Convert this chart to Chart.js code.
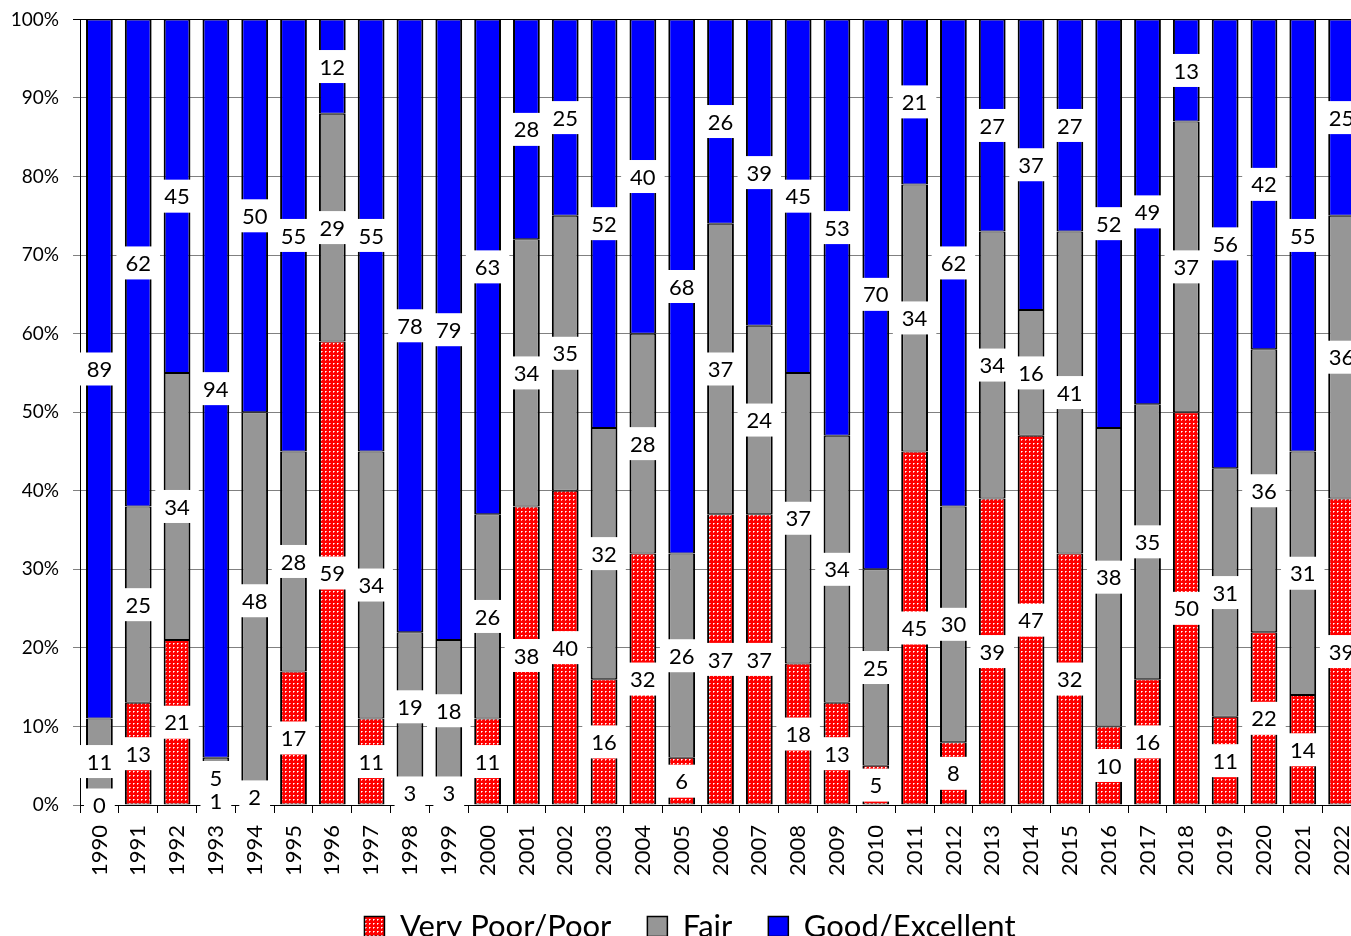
<!DOCTYPE html>
<html>
<head>
<meta charset="utf-8">
<script src="https://cdn.jsdelivr.net/npm/chart.js@4"></script>
<style>
  html, body { margin: 0; padding: 0; background: #fff; overflow: hidden; }
  #wrap { width: 1380px; height: 958px; margin-top: -6px; }
</style>
</head>
<body>
<div id="wrap"><canvas id="chart" width="1380" height="958"></canvas></div>
<script>
const years = ["1990", "1991", "1992", "1993", "1994", "1995", "1996", "1997", "1998", "1999",
    "2000", "2001", "2002", "2003", "2004", "2005", "2006", "2007", "2008", "2009",
    "2010", "2011", "2012", "2013", "2014", "2015", "2016", "2017", "2018", "2019",
    "2020", "2021", "2022"];
const veryPoorPoor = [0, 13, 21, 1, 2, 17, 59, 11, 3, 3, 11, 38, 40, 16, 32, 6, 37, 37, 18, 13,
    5, 45, 8, 39, 47, 32, 10, 16, 50, 11, 22, 14, 39];
const fair = [11, 25, 34, 5, 48, 28, 29, 34, 19, 18, 26, 34, 35, 32, 28, 26, 37, 24, 37, 34,
    25, 34, 30, 34, 16, 41, 38, 35, 37, 31, 36, 31, 36];
const goodExcellent = [89, 62, 45, 94, 50, 55, 12, 55, 78, 79, 63, 28, 25, 52, 40, 68, 26, 39, 45, 53,
    70, 21, 62, 27, 37, 27, 52, 49, 13, 56, 42, 55, 25];

const FONT = "Lato, 'Open Sans', sans-serif";

// 100% stacked: share of each year's total
function toShare(values) {
    return values.map((v, i) => v / (veryPoorPoor[i] + fair[i] + goodExcellent[i]) * 100);
}

// red fill with small white dots
function dotPattern() {
    const c = document.createElement("canvas");
    c.width = 4;
    c.height = 4;
    const g = c.getContext("2d");
    g.fillStyle = "#ff0000";
    g.fillRect(0, 0, 4, 4);
    g.fillStyle = "#ffffff";
    g.fillRect(1, 1, 1, 1);
    g.fillStyle = "#ff9a9a";
    g.fillRect(2, 1, 1, 1);
    g.fillRect(1, 2, 1, 1);
    return g.createPattern(c, "repeat");
}

// white boxed value labels at the middle of every segment
const valueLabels = {
    id: "valueLabels",
    afterDatasetsDraw(chart) {
        const ctx = chart.ctx;
        ctx.save();
        ctx.font = "22px " + FONT;
        ctx.textAlign = "center";
        ctx.textBaseline = "middle";
        chart.data.datasets.forEach((ds, i) => {
            const meta = chart.getDatasetMeta(i);
            meta.data.forEach((bar, j) => {
                const p = bar.getProps(["x", "y", "base"], true);
                const cy = (p.y + p.base) / 2;
                const text = String(ds.raw[j]);
                const w = ctx.measureText(text).width + 18;
                const h = 33;
                ctx.fillStyle = "#ffffff";
                ctx.fillRect(p.x - w / 2, cy - h / 2, w, h);
                ctx.fillStyle = "#000000";
                ctx.fillText(text, p.x, cy + 1);
            });
        });
        ctx.restore();
    }
};

const border = { top: 1, bottom: 1, left: 2, right: 2 };

new Chart(document.getElementById("chart").getContext("2d"), {
    type: "bar",
    data: {
        labels: years,
        datasets: [
            {
                label: "Very Poor/Poor",
                raw: veryPoorPoor,
                data: toShare(veryPoorPoor),
                backgroundColor: dotPattern(),
                borderColor: "#000000",
                borderWidth: border,
                borderSkipped: false,
            },
            {
                label: "Fair",
                raw: fair,
                data: toShare(fair),
                backgroundColor: "#969696",
                borderColor: "#000000",
                borderWidth: border,
                borderSkipped: false,
            },
            {
                label: "Good/Excellent",
                raw: goodExcellent,
                data: toShare(goodExcellent),
                backgroundColor: "#0000ff",
                borderColor: "#000000",
                borderWidth: border,
                borderSkipped: false,
            },
        ],
    },
    options: {
        responsive: false,
        animation: false,
        devicePixelRatio: 1,
        categoryPercentage: 1,
        barPercentage: 0.69,
        layout: { padding: { top: 14, right: 0, left: 0, bottom: 0 } },
        plugins: {
            tooltip: { enabled: false },
            legend: {
                position: "bottom",
                labels: {
                    color: "#000000",
                    font: { family: FONT, size: 31 },
                    boxWidth: 20,
                    boxHeight: 20,
                    padding: 36,
                },
            },
        },
        scales: {
            x: {
                stacked: true,
                afterFit: (scale) => { scale.height = 70; },
                border: { color: "#000000", width: 1 },
                grid: { drawOnChartArea: false, color: "#000000", tickLength: 8 },
                ticks: {
                    color: "#000000",
                    font: { family: FONT, size: 22 },
                    minRotation: 90,
                    maxRotation: 90,
                    padding: 12,
                    autoSkip: false,
                },
            },
            y: {
                stacked: true,
                min: 0,
                max: 100,
                afterFit: (scale) => { scale.width = 80; },
                border: { color: "#000000", width: 1 },
                grid: {
                    color: (c) => (c.tick && c.tick.value === 100 ? "#000000" : "#808080"),
                    tickLength: 7,
                },
                ticks: {
                    stepSize: 10,
                    color: "#000000",
                    font: { family: FONT, size: 19 },
                    padding: 14,
                    callback: (v) => v + "%",
                },
            },
        },
    },
    plugins: [valueLabels],
});
</script>
</body>
</html>
